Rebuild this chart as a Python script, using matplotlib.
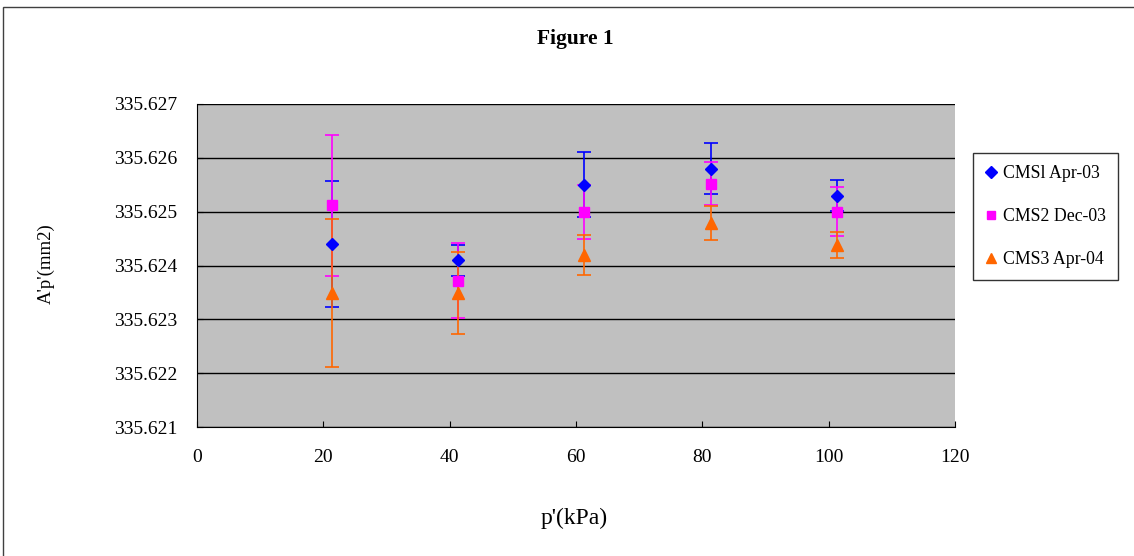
import matplotlib
matplotlib.use('Agg')
import matplotlib.pyplot as plt
from matplotlib.patches import Rectangle
from matplotlib.lines import Line2D

plt.rcParams['font.family'] = ['Liberation Serif', 'DejaVu Serif']

# 데이터
p_kpa = [21.3, 41.3, 61.3, 81.3, 101.3]

series_names = ['CMSl Apr-03', 'CMS2 Dec-03', 'CMS3 Apr-04']
cms1 = [335.62440, 335.62410, 335.62550, 335.62580, 335.62530]
cms2 = [335.62512, 335.62372, 335.62500, 335.62552, 335.62500]
cms3 = [335.62349, 335.62349, 335.62419, 335.62479, 335.62438]
cms1_err = [0.00117, 0.00029, 0.00060, 0.00047, 0.00028]
cms2_err = [0.00131, 0.00070, 0.00050, 0.00040, 0.00045]
cms3_err = [0.00137, 0.00076, 0.00037, 0.00031, 0.00024]

y_ticks = [335.621, 335.622, 335.623, 335.624, 335.625, 335.626, 335.627]
x_ticks = [0, 20, 40, 60, 80, 100, 120]

colors = ['#0000FF', '#FF00FF', '#FF6600']
markers = ['D', 's', '^']
msizes = [6, 6.5, 8]

fig = plt.figure(figsize=(11.34, 5.56), dpi=100)
ax = fig.add_axes([197/1134, 1 - 427/556, (955-197)/1134, (427-104)/556])
ax.set_facecolor('#C0C0C0')

handles = []
for y, err, c, m, ms, name in zip([cms1, cms2, cms3], [cms1_err, cms2_err, cms3_err],
                                  colors, markers, msizes, series_names):
    ax.errorbar(p_kpa, y, yerr=err, fmt=m, color=c, ms=ms, mec=c,
                ecolor=c, elinewidth=1.2, capsize=5, capthick=1.2)
    # 범례용 마커 (오차막대 없이)
    handles.append(Line2D([], [], linestyle='none', marker=m, color=c, mec=c, ms=ms*0.95, label=name))

ax.set_xlim(0, 120)
ax.set_ylim(335.621, 335.627)
ax.set_xticks(x_ticks)
ax.set_yticks(y_ticks)
ax.set_yticklabels([f'{v:.3f}' for v in y_ticks])
ax.yaxis.grid(True, color='black', linewidth=1)
ax.set_axisbelow(True)
ax.tick_params(labelsize=14, direction='in', length=4, color='black')
ax.tick_params(axis='x', pad=16)
ax.tick_params(axis='y', pad=14)
for s in ['top', 'right']:
    ax.spines[s].set_visible(False)
ax.spines['left'].set_color('black')
ax.spines['bottom'].set_color('black')

fig.text(46/1134, 1 - 264/556, "A'p'(mm2)", rotation=90, ha='center', va='center', fontsize=13.5)
fig.text(574/1134, 1 - 518/556, "p'(kPa)", ha='center', va='center', fontsize=17)
fig.text(575/1134, 1 - 39/556, 'Figure 1', ha='center', va='center', fontsize=15.5, fontweight='bold')

leg = fig.legend(handles=handles, loc='upper left', bbox_to_anchor=(973/1134, 1 - 153/556),
                 borderaxespad=0, fontsize=12.8, frameon=True, fancybox=False,
                 handlelength=0.64, handletextpad=0.32, labelspacing=1.45, borderpad=0.7)
leg.get_frame().set_edgecolor('black')
leg.get_frame().set_linewidth(1)

# 바깥 테두리
fig.patches.append(Rectangle((3/1134, -0.1), 1.2, 1 - 7/556 + 0.1,
                             transform=fig.transFigure, fill=False,
                             edgecolor='#404040', linewidth=1))

fig.savefig('out.png', dpi=100)
